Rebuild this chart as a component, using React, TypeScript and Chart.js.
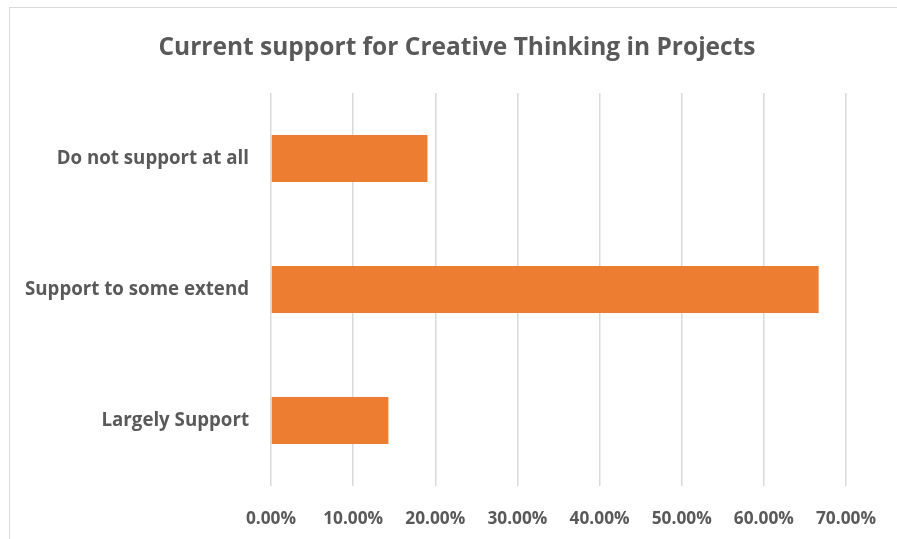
import React, { useEffect, useRef } from "react";
import { Chart, registerables } from "chart.js";

Chart.register(...registerables);

const categories = ["Do not support at all", "Support to some extend", "Largely Support"];
const values = [19.05, 66.67, 14.29];
const axisMin = 0;
const axisMax = 70;
const axisStep = 10;
const titleText = "Current support for Creative Thinking in Projects";

const TEXT = "#595959";
const GRID = "#d9d9d9";
const BAR = "#ED7D31";
const FONT = "'Open Sans', sans-serif";

const widenLabelArea = {
  id: "widenLabelArea",
  afterLayout(chart: any) {
    const y = chart.scales.y;
    if (y) y.left = 0;
  },
};

export default function App() {
  const ref = useRef<HTMLCanvasElement>(null);
  useEffect(() => {
    if (!ref.current) return;
    const chart = new Chart(ref.current, {
      type: "bar",
      data: {
        labels: categories,
        datasets: [
          {
            data: values,
            backgroundColor: BAR,
            borderWidth: 0,
            categoryPercentage: 1,
            barPercentage: 0.36,
          },
        ],
      },
      options: {
        indexAxis: "y",
        responsive: false,
        animation: false,
        devicePixelRatio: 1,
        layout: { padding: { left: 68, right: 51, top: 0, bottom: 0 } },
        plugins: {
          legend: { display: false },
          tooltip: { enabled: false },
          title: {
            display: true,
            text: titleText,
            color: TEXT,
            font: { family: FONT, size: 24.5, weight: "bold" },
            padding: { top: 33, bottom: 30.6 },
          },
        },
        scales: {
          x: {
            min: axisMin,
            max: axisMax,
            grid: { color: GRID, lineWidth: 1.5, drawTicks: false },
            border: { display: false },
            ticks: {
              stepSize: axisStep,
              color: TEXT,
              padding: 21,
              maxRotation: 0,
              font: { family: FONT, size: 17.3, weight: "bold", lineHeight: 1.45 },
              callback: (v: any) => Number(v).toFixed(2) + "%",
            },
            afterFit: (s: any) => {
              s.height = 53;
            },
          },
          y: {
            grid: { display: false, drawTicks: false },
            border: { display: false },
            ticks: {
              color: TEXT,
              padding: 22,
              font: { family: FONT, size: 18.7, weight: "bold" },
            },
            afterFit: (s: any) => {
              s.width = 203;
            },
          },
        },
      },
      plugins: [widenLabelArea],
    });
    return () => chart.destroy();
  }, []);
  return (
    <>
      <div
        style={{
          position: "fixed",
          left: 9,
          top: 7,
          width: 1000,
          height: 1000,
          border: "1px solid #d9d9d9",
          boxSizing: "border-box",
        }}
      />
      <canvas
        ref={ref}
        width={897}
        height={539}
        style={{ position: "fixed", left: 0, top: 0, width: 897, height: 539 }}
      />
    </>
  );
}
